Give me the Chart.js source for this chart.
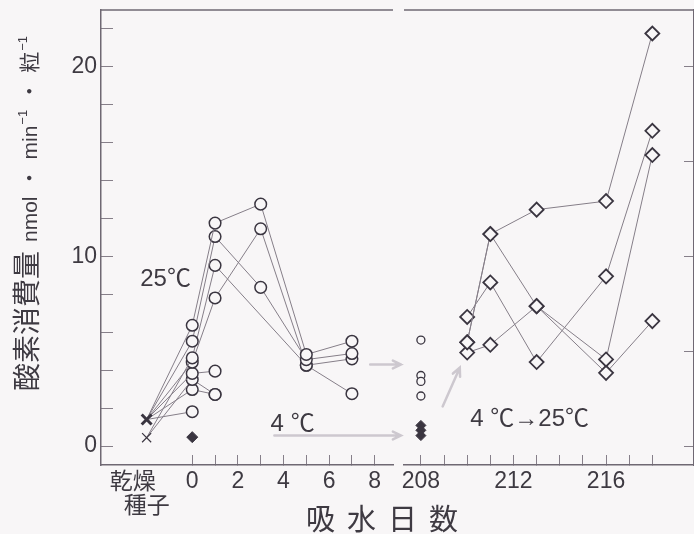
<!DOCTYPE html>
<html>
<head>
<meta charset="utf-8">
<script src="https://cdn.jsdelivr.net/npm/chart.js"></script>
<style>
  html, body { margin: 0; padding: 0; width: 694px; height: 534px; overflow: hidden; background: #f8f6f7; }
  #wrap { position: relative; width: 694px; height: 534px; }
  canvas { position: absolute; top: 0; }
  #leftChart { left: 0; }
  #rightChart { left: 395px; }
  #xTitle {
    position: absolute; left: 306px; top: 503px;
    font: 29px "Noto Sans CJK JP"; line-height: 29px; letter-spacing: 12px;
    color: #3e3a42; white-space: nowrap;
  }
</style>
</head>
<body>
<div id="wrap">
  <canvas id="leftChart" width="410" height="534"></canvas>
  <canvas id="rightChart" width="310" height="534"></canvas>
  <div id="xTitle">吸水日数</div>
</div>
<script>
// ============================================
// DATA
// ============================================

// left panel: dry seed column + days after imbibition at 25℃
const dryX = -2;                     // position of the 乾燥種子 column
const days25 = [dryX, 0, 1, 3, 5, 7];
const run25a = [1.4, 6.37, 11.76, 12.76, 4.83, 5.53];
const run25b = [1.4, 5.53, 11.05, 8.37, 4.56, 4.88];
const run25c = [0.44, 4.65, 9.53, null, 4.26, 4.6];
const run25d = [1.4, 4.42, 7.81, 11.46, 4.26, 2.76];
const run25e = [1.4, 3.83, 3.95];
const run25f = [0.44, 3.51, 2.72];
const run25g = [1.4, 2.98, 2.72];
const run25h = [1.4, 1.81];
const dryBold = [1.4];
const dryThin = [0.44];
const cold0 = [0.47];                // 4℃ at day 0

// right panel: day 208 at 4℃, then moved to 25℃
const day208 = 208;
const cold208Circles = [5.59, 3.72, 3.41, 2.64];
const cold208Diamonds = [1.09, 0.83, 0.55];
const daysShift = [210, 211, 213, 216, 218];
const shiftA = [5.47, 11.18, 12.47, 12.92, 21.76];
const shiftB = [5.47, 11.18, 7.38, 4.57, 15.35];
const shiftC = [6.81, 8.63, 4.43, 8.95, 16.63];
const shiftD = [4.93, 5.34, 7.38, 3.86, 6.59];

// ticks
const leftDayTicks = [0, 1, 2, 3, 4, 5, 6, 7, 8];
const leftDayLabels = [0, 2, 4, 6, 8];
const rightDayTicks = [208, 209, 210, 211, 212, 213, 214, 215, 216, 217, 218];
const rightDayLabels = [208, 212, 216];
const rateTicks = [0, 2, 4, 6, 8, 10, 12, 14, 16, 18, 20, 22];
const rateLabels = [0, 10, 20];
const rightRateTicks = [0, 5, 10, 15, 20];

// annotations (data units)
const leftNotes = [
    { text: '25℃', x: -1.17, y: 8.77 },
    { text: '4 ℃', x: 4.4, y: 1.14 }
];
const rightNotes = [
    { text: '4 ℃→25℃', x: 212.7, y: 1.4 }
];
const leftArrows = [[7.8, 4.3, 9.15, 4.3], [3.6, 0.56, 9.15, 0.56]];
const rightArrows = [[208.94, 2.09, 209.68, 4.13]];

// ============================================
// STYLE
// ============================================

const bg = '#f8f6f7';
const textColor = '#3e3a42';
const axisColor = '#6f6873';
const tickColor = '#867f89';
const lineColor = '#857e88';
const markColor = '#3a3540';
const arrowColor = '#cdc8cf';
const numFont = '"Liberation Sans", "Noto Sans CJK JP"';
const jpFont = '"Noto Sans CJK JP"';

function toPoints(xs, ys) {
    return ys.map((y, i) => ({ x: xs[i], y: y }));
}

function runDataset(xs, ys) {
    return {
        data: toPoints(xs, ys),
        showLine: true,
        spanGaps: true,
        borderColor: lineColor,
        borderWidth: 1,
        pointStyle: 'circle',
        pointRadius: ctx => (ctx.raw && ctx.raw.x === dryX) ? 0 : 5.8,
        pointBorderWidth: 1.5,
        pointBorderColor: markColor,
        pointBackgroundColor: bg
    };
}

function shiftDataset(ys) {
    return {
        data: toPoints(daysShift, ys),
        showLine: true,
        borderColor: lineColor,
        borderWidth: 1,
        pointStyle: 'rectRot',
        pointRadius: 7,
        pointBorderWidth: 1.8,
        pointBorderColor: markColor,
        pointBackgroundColor: bg
    };
}

function markDataset(x, ys, style, radius, width, fill) {
    return {
        data: ys.map(y => ({ x: x, y: y })),
        showLine: false,
        pointStyle: style,
        pointRadius: radius,
        pointBorderWidth: width,
        pointBorderColor: markColor,
        pointBackgroundColor: fill
    };
}

// keep the plot box where the figure has it: no extra room for label overhang
function noOverhang(s) {
    s.paddingTop = 0;
    s.paddingBottom = 0;
    s.paddingLeft = 0;
    s.paddingRight = 0;
}

function dayAxis(min, max, tickVals, labelVals) {
    return {
        type: 'linear',
        min: min,
        max: max,
        afterBuildTicks: s => { s.ticks = tickVals.map(v => ({ value: v })); },
        afterFit: s => { s.height = 69; noOverhang(s); },
        grid: { drawOnChartArea: false, tickLength: -10, tickColor: tickColor, tickWidth: 1 },
        border: { color: axisColor, width: 1.5 },
        ticks: {
            autoSkip: false,
            maxRotation: 0,
            padding: 13,
            color: textColor,
            font: { family: numFont, size: 23 },
            callback: v => labelVals.includes(v) ? String(v) : ''
        }
    };
}

// ============================================
// PLUGINS
// ============================================

function drawArrow(ctx, x1, y1, x2, y2) {
    const a = Math.atan2(y2 - y1, x2 - x1);
    ctx.beginPath();
    ctx.moveTo(x1, y1);
    ctx.lineTo(x2, y2);
    ctx.moveTo(x2 - 9 * Math.cos(a - 0.45), y2 - 9 * Math.sin(a - 0.45));
    ctx.lineTo(x2, y2);
    ctx.lineTo(x2 - 9 * Math.cos(a + 0.45), y2 - 9 * Math.sin(a + 0.45));
    ctx.stroke();
}

function overlayPlugin(notes, arrows) {
    return {
        id: 'overlay',
        beforeDatasetsDraw(chart) {
            const { ctx, chartArea, scales: { x, y } } = chart;
            ctx.save();
            // top frame line
            ctx.strokeStyle = axisColor;
            ctx.lineWidth = 1.5;
            ctx.beginPath();
            ctx.moveTo(chartArea.left, chartArea.top);
            ctx.lineTo(chartArea.right, chartArea.top);
            ctx.stroke();
            // gray arrows
            ctx.strokeStyle = arrowColor;
            ctx.lineWidth = 2.5;
            ctx.lineCap = 'round';
            arrows.forEach(a => drawArrow(ctx,
                x.getPixelForValue(a[0]), y.getPixelForValue(a[1]),
                x.getPixelForValue(a[2]), y.getPixelForValue(a[3])));
            // text labels
            ctx.fillStyle = textColor;
            ctx.font = '24px ' + numFont;
            ctx.textAlign = 'center';
            ctx.textBaseline = 'middle';
            notes.forEach(n => ctx.fillText(n.text, x.getPixelForValue(n.x), y.getPixelForValue(n.y)));
            ctx.restore();
        }
    };
}

const yTitleParts = [
    { text: '酸素消費量', font: '28px ' + jpFont, gap: 9 },
    { text: 'nmol', font: '21px ' + numFont, gap: 8 },
    { text: '・', font: '21px ' + jpFont, gap: 8 },
    { text: 'min', font: '21px ' + numFont, gap: 1 },
    { text: '−1', font: '13px ' + numFont, rise: 10, gap: 8 },
    { text: '・', font: '21px ' + jpFont, gap: 8 },
    { text: '粒', font: '21px ' + jpFont, gap: 1 },
    { text: '−1', font: '13px ' + numFont, rise: 10, gap: 0 }
];

const leftLabelsPlugin = {
    id: 'leftLabels',
    afterDraw(chart) {
        const ctx = chart.ctx;
        ctx.save();
        ctx.fillStyle = textColor;
        // dry seed category label
        const px = chart.scales.x.getPixelForValue(dryX);
        ctx.font = '23px ' + jpFont;
        ctx.textAlign = 'center';
        ctx.textBaseline = 'middle';
        ctx.fillText('乾燥', px - 14, 480);
        ctx.fillText('種子', px, 504);
        // rotated y title
        ctx.translate(37, 391);
        ctx.rotate(-Math.PI / 2);
        ctx.textAlign = 'left';
        ctx.textBaseline = 'alphabetic';
        let pos = 0;
        yTitleParts.forEach(p => {
            ctx.font = p.font;
            ctx.fillText(p.text, pos, p.rise ? -p.rise : 0);
            pos += ctx.measureText(p.text).width + p.gap;
        });
        ctx.restore();
    }
};

const baseOptions = {
    responsive: false,
    animation: false,
    plugins: { legend: { display: false }, tooltip: { enabled: false } },
    elements: { line: { tension: 0 } }
};

// ============================================
// LEFT PANEL
// ============================================

new Chart(document.getElementById('leftChart'), {
    type: 'scatter',
    data: {
        datasets: [
            markDataset(dryX, dryBold, 'crossRot', 7, 3, markColor),
            markDataset(dryX, dryThin, 'crossRot', 6.4, 1.2, markColor),
            markDataset(0, cold0, 'rectRot', 5.5, 1, markColor),
            runDataset(days25, run25a),
            runDataset(days25, run25b),
            runDataset(days25, run25c),
            runDataset(days25, run25d),
            runDataset(days25, run25e),
            runDataset(days25, run25f),
            runDataset(days25, run25g),
            runDataset(days25, run25h)
        ]
    },
    options: {
        ...baseOptions,
        layout: { padding: { top: 10, right: 17, left: 0, bottom: 0 } },
        scales: {
            x: dayAxis(-4, 8.8, leftDayTicks, leftDayLabels),
            y: {
                type: 'linear',
                position: 'left',
                min: -1,
                max: 23,
                afterBuildTicks: s => { s.ticks = rateTicks.map(v => ({ value: v })); },
                afterFit: s => { s.width = 101; noOverhang(s); },
                grid: { drawOnChartArea: false, tickLength: -12, tickColor: tickColor, tickWidth: 1 },
                border: { color: axisColor, width: 1.5 },
                ticks: {
                    autoSkip: false,
                    padding: 16,
                    color: textColor,
                    font: { family: numFont, size: 23 },
                    callback: v => rateLabels.includes(v) ? String(v) : ''
                }
            }
        }
    },
    plugins: [overlayPlugin(leftNotes, leftArrows), leftLabelsPlugin]
});

// ============================================
// RIGHT PANEL
// ============================================

new Chart(document.getElementById('rightChart'), {
    type: 'scatter',
    data: {
        datasets: [
            markDataset(day208, cold208Diamonds, 'rectRot', 5, 1, markColor),
            markDataset(day208, cold208Circles, 'circle', 4, 1.3, bg),
            shiftDataset(shiftA),
            shiftDataset(shiftB),
            shiftDataset(shiftC),
            shiftDataset(shiftD)
        ]
    },
    options: {
        ...baseOptions,
        layout: { padding: { top: 10, right: 0, left: 9, bottom: 0 } },
        scales: {
            x: dayAxis(207.27, 219.8, rightDayTicks, rightDayLabels),
            y: {
                type: 'linear',
                position: 'right',
                min: -1,
                max: 23,
                afterBuildTicks: s => { s.ticks = rightRateTicks.map(v => ({ value: v })); },
                afterFit: s => { s.width = 11; noOverhang(s); },
                grid: { drawOnChartArea: false, tickLength: -10, tickColor: tickColor, tickWidth: 1 },
                border: { color: axisColor, width: 1.5 },
                ticks: { display: false }
            }
        }
    },
    plugins: [overlayPlugin(rightNotes, rightArrows)]
});
</script>
</body>
</html>
